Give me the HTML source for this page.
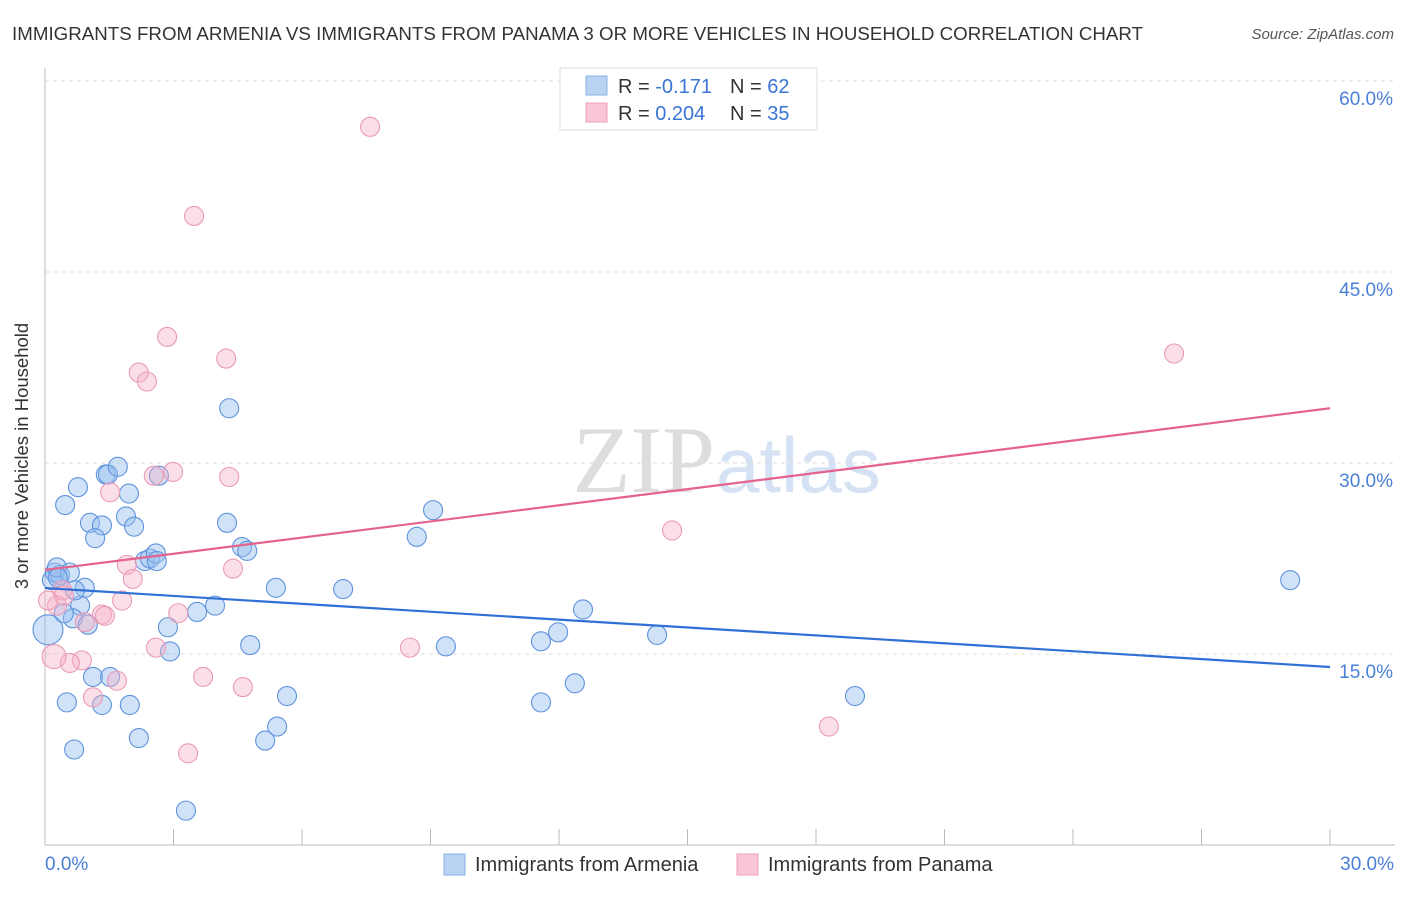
<!DOCTYPE html>
<html><head><meta charset="utf-8"><style>
body{margin:0;background:#fff;font-family:"Liberation Sans",sans-serif}
svg text{font-family:"Liberation Sans",sans-serif}
</style></head><body>
<svg id="c" width="1406" height="892">
<text x="12" y="40" font-size="18.7" fill="#333" textLength="1131">IMMIGRANTS FROM ARMENIA VS IMMIGRANTS FROM PANAMA 3 OR MORE VEHICLES IN HOUSEHOLD CORRELATION CHART</text>
<text x="1394" y="39" font-size="15" fill="#555" font-style="italic" text-anchor="end">Source: ZipAtlas.com</text>
<text x="715" y="492" font-size="95" fill="#ddd" text-anchor="end" font-family="Liberation Serif" style="font-family:'Liberation Serif',serif">ZIP</text>
<text x="716" y="492" font-size="78" fill="#d4e2f4">atlas</text>
<g id="grid"></g>
<line x1="45" y1="68" x2="45" y2="845" stroke="#bbb"/>
<line x1="45" y1="845" x2="1395" y2="845" stroke="#bbb"/>
<g id="ticks"></g>
<text x="28" y="456" font-size="18.5" fill="#333" text-anchor="middle" transform="rotate(-90 28 456)">3 or more Vehicles in Household</text>
<text x="45" y="870" font-size="19" fill="#4a7fd6">0.0%</text>
<text x="1394" y="870" font-size="19" fill="#4a7fd6" text-anchor="end">30.0%</text>
<g id="pts"></g>
<g id="lines"></g>
<g>
<rect x="560" y="68" width="257" height="62" fill="#fff" stroke="#ddd"/>
<rect x="586" y="76" width="21" height="19" fill="#b8d2f4" stroke="#8ab0e6"/>
<rect x="586" y="103" width="21" height="19" fill="#f9c6d6" stroke="#eea2bb"/>
<text x="618" y="93" font-size="20" fill="#333">R = <tspan fill="#3a74d4">-0.171</tspan></text>
<text x="730" y="93" font-size="20" fill="#333">N = <tspan fill="#3a74d4">62</tspan></text>
<text x="618" y="120" font-size="20" fill="#333">R = <tspan fill="#3a74d4">0.204</tspan></text>
<text x="730" y="120" font-size="20" fill="#333">N = <tspan fill="#3a74d4">35</tspan></text>
</g>
<g>
<rect x="444" y="854" width="21" height="21" fill="#b8d2f4" stroke="#8ab0e6"/>
<text x="475" y="871" font-size="20" fill="#333">Immigrants from Armenia</text>
<rect x="737" y="854" width="21" height="21" fill="#f9c6d6" stroke="#eea2bb"/>
<text x="768" y="871" font-size="20" fill="#333">Immigrants from Panama</text>
</g>
</svg>
<script>
const yTicks=[15,30,45,60];
const yTickLabels=["15.0%","30.0%","45.0%","60.0%"];
const xTicks=[0,3,6,9,12,15,18,21,24,27,30];
const armeniaX=[0.07,0.16,0.23,0.35,0.28,0.58,0.47,0.77,0.93,0.82,0.65,1.0,1.05,1.33,1.17,1.12,0.51,1.33,0.68,1.42,1.47,1.70,1.96,1.89,2.08,2.33,2.45,2.59,2.61,2.66,2.87,2.92,2.19,1.98,1.52,3.29,3.55,3.97,4.25,4.30,4.60,4.72,4.79,5.39,5.65,5.42,5.14,6.96,9.06,8.68,9.36,11.58,11.98,12.56,12.37,11.58,14.29,18.91,29.07,0.70,0.44,0.3];
const armeniaY=[16.9,20.8,21.4,21.2,21.8,21.4,26.7,28.1,20.2,18.8,17.8,17.3,25.3,25.1,24.1,13.2,11.2,11.0,7.5,29.1,29.1,29.7,27.6,25.8,25.0,22.3,22.5,22.9,22.3,29.0,17.1,15.2,8.4,11.0,13.2,2.7,18.3,18.8,25.3,34.3,23.4,23.1,15.7,20.2,11.7,9.3,8.2,20.1,26.3,24.2,15.6,16.0,16.7,18.5,12.7,11.2,16.5,11.7,20.8,20.0,18.2,21.0];
const panamaX=[7.59,3.48,2.85,4.23,2.19,2.38,26.36,1.52,2.54,2.99,4.30,14.64,1.91,2.05,4.39,0.40,0.28,1.80,1.33,0.93,3.11,2.59,8.52,0.86,0.58,0.21,3.69,4.62,1.12,1.68,3.34,18.30,0.44,1.40,0.07];
const panamaY=[56.4,49.4,39.9,38.2,37.1,36.4,38.6,27.7,29.0,29.3,28.9,24.7,22.0,20.9,21.7,20.0,18.8,19.2,18.1,17.5,18.2,15.5,15.5,14.5,14.3,14.8,13.2,12.4,11.6,12.9,7.2,9.3,19.6,18.0,19.2];
const armeniaTrend=[20.18,13.98];
const panamaTrend=[21.6,34.3];
const NS="http://www.w3.org/2000/svg";
const X=v=>45+v/30*1285, Y=v=>845-v/15*191;
function mk(t,a,p){const e=document.createElementNS(NS,t);for(const k in a)e.setAttribute(k,a[k]);document.getElementById(p).appendChild(e);return e;}
yTicks.forEach((t,i)=>{
 const l=mk('line',{x1:45,x2:1395,y1:Y(t),y2:Y(t),stroke:'#ddd','stroke-dasharray':'4,4'},'grid');
 
 
 const tx=mk('text',{x:1393,y:Y(t)+24,'font-size':19,fill:'#4a7fd6','text-anchor':'end'},'grid');
 tx.textContent=yTickLabels[i];
 
 
});
xTicks.forEach(t=>{
 const l=mk('line',{x1:X(t),x2:X(t),y1:829,y2:845,stroke:'#bbb'},'ticks');
 
 
});
armeniaX.forEach((v,i)=>{
 const r=(i===0)?15:9.5;
 const c=mk('circle',{cx:X(v),cy:Y(armeniaY[i]),r:r,fill:'rgba(150,190,240,0.45)',stroke:'#5f93dc','stroke-width':1.1},'pts');
 
 
});
panamaX.forEach((v,i)=>{
 const r=(i===25)?12:9.5;
 const c=mk('circle',{cx:X(v),cy:Y(panamaY[i]),r:r,fill:'rgba(246,175,198,0.4)',stroke:'#eb9ab5','stroke-width':1.1},'pts');
 
 
});
let l1=mk('line',{x1:X(0),x2:X(30),y1:Y(armeniaTrend[0]),y2:Y(armeniaTrend[1]),stroke:'#2f6fd6','stroke-width':2.2},'lines');


let l2=mk('line',{x1:X(0),x2:X(30),y1:Y(panamaTrend[0]),y2:Y(panamaTrend[1]),stroke:'#e5628e','stroke-width':2.2},'lines');


</script>
</body></html>
